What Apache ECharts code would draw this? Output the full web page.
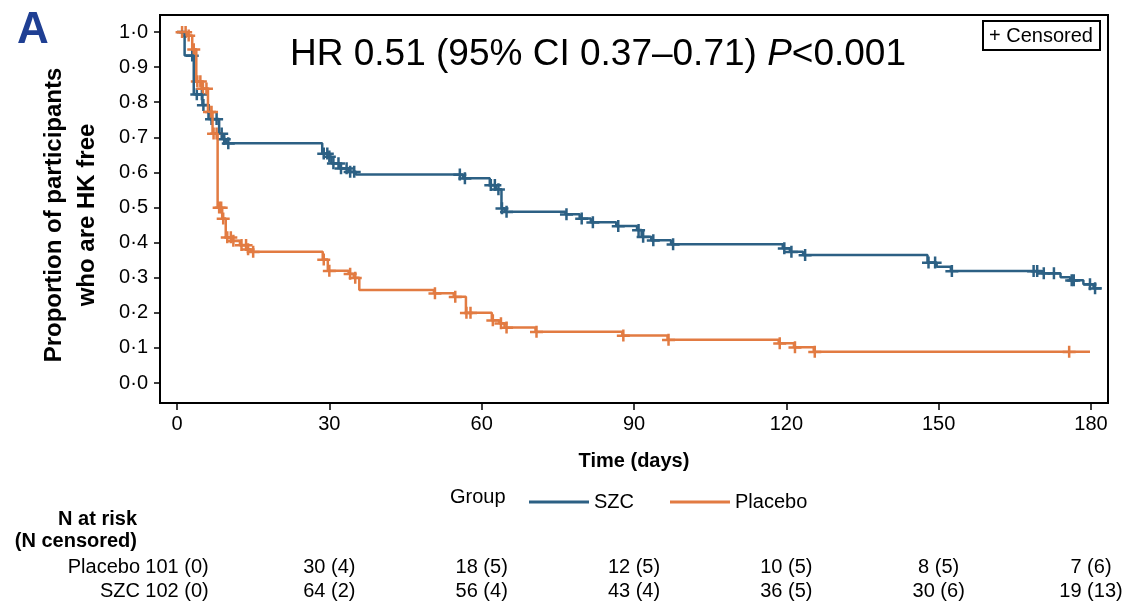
<!DOCTYPE html>
<html>
<head>
<meta charset="utf-8">
<script src="https://cdn.jsdelivr.net/npm/echarts@6/dist/echarts.min.js"></script>
<style>
  html, body { margin: 0; padding: 0; background: #fff; }
  #chart { width: 1125px; height: 604px; }
</style>
</head>
<body>
<div id="chart"></div>
<script>
const FONT = '"Liberation Sans", Arial, Helvetica, sans-serif';
const BLUE = '#2c6084';
const ORANGE = '#e27b42';

// Kaplan-Meier steps: [day, proportion after the event]
const szcSteps = [
  [0, 1.0], [1.5, 0.933], [3.3, 0.823], [5.0, 0.792], [6.2, 0.752], [8.3, 0.711],
  [9.0, 0.695], [9.6, 0.683], [28.6, 0.654], [29.9, 0.645], [30.4, 0.626],
  [32.0, 0.612], [33.8, 0.602], [35.2, 0.594], [56.3, 0.583], [61.6, 0.564],
  [62.8, 0.552], [63.9, 0.498], [64.5, 0.488], [76.5, 0.481], [79.3, 0.469],
  [81.5, 0.458], [86.5, 0.447], [90.6, 0.436], [91.5, 0.417], [93.4, 0.407],
  [97.3, 0.395], [119.3, 0.384], [120.7, 0.374], [123.3, 0.365], [147.8, 0.343],
  [149.6, 0.331], [152.4, 0.319], [170.3, 0.313], [174.0, 0.301], [175.9, 0.293],
  [178.5, 0.281], [180.5, 0.270], [182.1, 0.270]
];
const szcCensor = [
  3.0, 3.9, 4.9, 5.2, 6.8, 7.8, 8.8, 9.3, 10.1, 28.9, 29.6, 30.0, 30.8, 31.8,
  32.3, 33.4, 34.1, 34.9, 55.7, 56.7, 61.8, 62.6, 63.3, 64.0, 64.9, 76.7, 79.7,
  81.9, 86.9, 90.9, 91.8, 93.8, 97.7, 119.6, 121.0, 123.7, 148.0, 149.3, 152.6,
  168.7, 169.4, 170.7, 172.7, 176.2, 176.6, 179.8, 180.8
];

const placeboSteps = [
  [0, 1.0], [1.9, 0.99], [3.0, 0.951], [3.8, 0.860], [4.9, 0.839], [6.1, 0.773],
  [7.0, 0.711], [8.0, 0.500], [8.9, 0.469], [9.6, 0.415], [10.9, 0.405],
  [12.4, 0.393], [13.8, 0.381], [14.6, 0.374], [28.7, 0.352], [29.7, 0.320],
  [33.8, 0.311], [34.8, 0.300], [35.9, 0.265], [50.6, 0.256], [54.5, 0.246],
  [56.9, 0.200], [62.0, 0.179], [63.5, 0.170], [64.5, 0.158], [70.6, 0.146],
  [87.7, 0.135], [96.6, 0.123], [118.5, 0.113], [121.5, 0.102], [125.4, 0.089],
  [179.8, 0.089]
];
const placeboCensor = [
  1.0, 1.7, 2.3, 3.3, 4.0, 4.6, 5.1, 5.8, 6.4, 6.8, 7.2, 7.8, 8.3, 8.7, 9.1,
  9.9, 10.6, 11.1, 12.7, 13.6, 14.0, 15.0, 28.9, 30.0, 34.1, 35.1, 50.8, 54.8,
  57.0, 57.8, 62.2, 63.8, 64.9, 70.8, 87.9, 96.8, 118.7, 121.7, 125.6, 175.7
];

// axis ticks
const xTickValues = [0, 30, 60, 90, 120, 150, 180];
const yTickValues = [0, 0.1, 0.2, 0.3, 0.4, 0.5, 0.6, 0.7, 0.8, 0.9, 1.0];

// number at risk table
const riskTimes = [0, 30, 60, 90, 120, 150, 180];
const placeboRisk = ['101 (0)', '30 (4)', '18 (5)', '12 (5)', '10 (5)', '8 (5)', '7 (6)'];
const szcRisk = ['102 (0)', '64 (2)', '56 (4)', '43 (4)', '36 (5)', '30 (6)', '19 (13)'];
const riskGroups = ['SZC', 'Placebo'];

function survAt(steps, t) {
  let s = steps[0][1];
  for (const [tt, v] of steps) {
    if (tt <= t) s = v;
  }
  return s;
}

// "+" censor mark
const plusPath = 'path://M0,5H13V7.5H0ZM5.25,0H7.75V12H5.25Z';

// frame is a bit wider than the 0..180 / 0..1 data range
const xPad = 17 / (914 / 180);
const yPadTop = 17 / 351;
const yPadBottom = 20 / 351;

const chart = echarts.init(document.getElementById('chart'));

const option = {
  animation: false,
  textStyle: { fontFamily: FONT },
  title: {
    text: '{n|HR 0.51 (95% CI 0.37–0.71) }{i|P}{n|<0.001}',
    left: 285,
    top: 31,
    textStyle: {
      rich: {
        n: { fontSize: 37, color: '#000', fontFamily: FONT, fontWeight: 'normal' },
        i: { fontSize: 37, color: '#000', fontFamily: FONT, fontWeight: 'normal', fontStyle: 'italic' }
      }
    }
  },
  legend: {
    data: ['SZC', 'Placebo'],
    left: 524,
    top: 487,
    icon: 'rect',
    itemWidth: 60,
    itemHeight: 3,
    itemGap: 36,
    textStyle: { fontSize: 20, color: '#000', fontFamily: FONT }
  },
  grid: [
    { left: 160, right: 17, top: 15, height: 388 },
    { left: 177, right: 34, top: 555, height: 52 }
  ],
  xAxis: [
    {
      type: 'value',
      min: -xPad,
      max: 180 + xPad,
      axisLine: { show: false, onZero: false },
      axisTick: { show: true, length: 7, customValues: xTickValues, lineStyle: { color: '#000', width: 1.5 } },
      axisLabel: { fontSize: 20, color: '#000', margin: 11, customValues: xTickValues },
      splitLine: { show: false },
      name: 'Time (days)',
      nameLocation: 'middle',
      nameGap: 48,
      nameTextStyle: { fontSize: 20, fontWeight: 'bold', color: '#000' }
    },
    {
      gridIndex: 1,
      type: 'value',
      min: 0,
      max: 180,
      show: false
    }
  ],
  yAxis: [
    {
      type: 'value',
      min: -yPadBottom,
      max: 1 + yPadTop,
      axisLine: { show: false, onZero: false },
      axisTick: { show: true, length: 6, customValues: yTickValues, lineStyle: { color: '#000', width: 1.5 } },
      axisLabel: {
        fontSize: 20,
        color: '#000',
        margin: 12,
        customValues: yTickValues,
        formatter: v => v.toFixed(1).replace('.', '·')
      },
      splitLine: { show: false }
    },
    {
      gridIndex: 1,
      type: 'category',
      data: riskGroups,
      axisLine: { show: false },
      axisTick: { show: false },
      axisLabel: { fontSize: 20, color: '#000', margin: 37, interval: 0 },
      splitLine: { show: false }
    }
  ],
  graphic: [
    {
      type: 'rect',
      shape: { x: 160, y: 15, width: 948, height: 388 },
      style: { fill: 'none', stroke: '#000', lineWidth: 2 },
      silent: true
    },
    {
      type: 'text',
      x: 17, y: 9,
      style: { text: 'A', font: 'bold 44px ' + FONT, fill: '#1f3f93' }
    },
    {
      type: 'text',
      x: 71, y: 215,
      rotation: Math.PI / 2,
      style: {
        text: 'Proportion of participants\nwho are HK free',
        font: 'bold 24px ' + FONT,
        fill: '#000',
        align: 'center',
        verticalAlign: 'middle',
        lineHeight: 33
      }
    },
    {
      type: 'rect',
      shape: { x: 983, y: 21, width: 117, height: 29 },
      style: { fill: '#fff', stroke: '#000', lineWidth: 2 }
    },
    {
      type: 'text',
      x: 989, y: 36,
      style: { text: '+ Censored', font: '20px ' + FONT, fill: '#000', verticalAlign: 'middle' }
    },
    {
      type: 'text',
      x: 450, y: 497,
      style: { text: 'Group', font: '20px ' + FONT, fill: '#000', verticalAlign: 'middle' }
    },
    {
      type: 'text',
      x: 137, y: 519,
      style: { text: 'N at risk', font: 'bold 20px ' + FONT, fill: '#000', align: 'right', verticalAlign: 'middle' }
    },
    {
      type: 'text',
      x: 137, y: 541,
      style: { text: '(N censored)', font: 'bold 20px ' + FONT, fill: '#000', align: 'right', verticalAlign: 'middle' }
    }
  ],
  series: [
    {
      name: 'SZC',
      type: 'line',
      step: 'end',
      data: szcSteps,
      symbol: 'none',
      clip: false,
      color: BLUE,
      lineStyle: { width: 2.5, color: BLUE }
    },
    {
      name: 'SZC censored',
      type: 'scatter',
      data: szcCensor.map(t => [t, survAt(szcSteps, t)]),
      symbol: plusPath,
      symbolSize: [13, 12],
      clip: false,
      itemStyle: { color: BLUE, opacity: 1 }
    },
    {
      name: 'Placebo',
      type: 'line',
      step: 'end',
      data: placeboSteps,
      symbol: 'none',
      clip: false,
      color: ORANGE,
      lineStyle: { width: 2.5, color: ORANGE }
    },
    {
      name: 'Placebo censored',
      type: 'scatter',
      data: placeboCensor.map(t => [t, survAt(placeboSteps, t)]),
      symbol: plusPath,
      symbolSize: [13, 12],
      clip: false,
      itemStyle: { color: ORANGE, opacity: 1 }
    },
    {
      name: 'risk placebo',
      type: 'scatter',
      xAxisIndex: 1,
      yAxisIndex: 1,
      symbolSize: 0,
      itemStyle: { opacity: 1 },
      data: placeboRisk.map((s, i) => ({ value: [riskTimes[i], 'Placebo'], name: s })),
      label: { show: true, position: 'inside', formatter: '{b}', fontSize: 20, color: '#000', textBorderWidth: 0 },
      silent: true
    },
    {
      name: 'risk szc',
      type: 'scatter',
      xAxisIndex: 1,
      yAxisIndex: 1,
      symbolSize: 0,
      itemStyle: { opacity: 1 },
      data: szcRisk.map((s, i) => ({ value: [riskTimes[i], 'SZC'], name: s })),
      label: { show: true, position: 'inside', formatter: '{b}', fontSize: 20, color: '#000', textBorderWidth: 0 },
      silent: true
    }
  ]
};

chart.setOption(option);
</script>
</body>
</html>
